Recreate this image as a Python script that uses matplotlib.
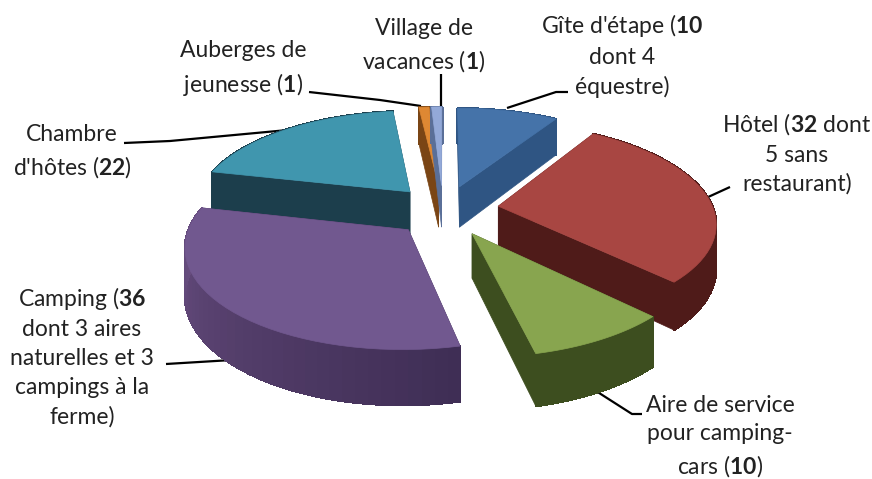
import numpy as np
import matplotlib
matplotlib.use("Agg")
import matplotlib.pyplot as plt
from matplotlib.patches import Polygon

plt.rcParams['font.family'] = ['Lato', 'DejaVu Sans']
plt.rcParams['mathtext.fontset'] = 'custom'
plt.rcParams['mathtext.rm'] = 'Lato'
plt.rcParams['mathtext.bf'] = 'Lato:bold'

# values, clockwise from the top
categories = ["Gîte d'étape", "Hôtel", "Aire de service", "Camping",
              "Chambre d'hôtes", "Auberges de jeunesse", "Village de vacances"]
values = [10, 32, 10, 36, 22, 1, 1]
labels = ["Gîte d'étape ($\\mathbf{10}$\ndont 4\néquestre)",
          "Hôtel ($\\mathbf{32}$ dont\n5 sans\nrestaurant)",
          "Aire de service\npour camping-\ncars ($\\mathbf{10}$)",
          "Camping ($\\mathbf{36}$\ndont 3 aires\nnaturelles et 3\ncampings à la\nferme)",
          "Chambre\nd'hôtes ($\\mathbf{22}$)",
          "Auberges de\njeunesse ($\\mathbf{1}$)",
          "Village de\nvacances ($\\mathbf{1}$)"]

# styles
top_colors = ['#4573a9', '#a84642', '#88a54f', '#71588f', '#4096ae', '#de8833', '#93a9d8']
side_left = ['#2f5583', '#4f1b19', '#3d4e1f', '#6a4f82', '#1c3e4c', '#7a4515', '#5a6f98']
side_right = ['#2f5583', '#4f1b19', '#3d4e1f', '#3f2e55', '#1c3e4c', '#7a4515', '#5a6f98']
explode = [0.27, 0.26, 0.27, 0.21, 0.2, 0.25, 0.25]
nudge_x = [3, 2, 2, 0, -3, 2, 2]
nudge_y = [2, 0, 1, 6, -3, 0, 0]
heights = [42, 43, 43, 46, 45, 43, 43]
draw_order = [4, 5, 6, 0, 1, 3, 2]
label_pos = [(622, 55), (797, 153), (720, 437), (82, 356), (72, 152), (243, 69), (424, 46)]
leaders = [[(507, 108), (556, 92), (568, 92)],
           [(706, 198), (730, 187)],
           [(596, 391), (632, 414), (642, 414)],
           [(232, 360), (166, 364)],
           [(288, 130), (170, 141), (124, 143)],
           [(421, 106), (380, 100), (309, 92)],
           [(441, 106), (441, 74)]]

cx, cy = 441, 209
rx, ry = 215, 97
persp = 0.15


def project(u, v, h=0):
    p = 1 / (1 + persp * v)
    return cx + rx * u * p, cy - ry * v * p + h * p


def slice_points(i, start, end, h=0):
    e = explode[i]
    mid = np.radians((start + end) / 2)
    ou, ov = e * np.sin(mid), e * np.cos(mid)
    angles = np.radians(np.linspace(start, end, 40))
    pts = [project(ou + np.sin(a), ov + np.cos(a), h) for a in angles]
    arc = [(x + nudge_x[i], y + nudge_y[i]) for x, y in pts]
    x0, y0 = project(ou, ov, h)
    return (x0 + nudge_x[i], y0 + nudge_y[i]), arc


fig = plt.figure(figsize=(8.72, 4.79), dpi=100)
ax = fig.add_axes([0, 0, 1, 1])
ax.set_xlim(0, 872)
ax.set_ylim(479, 0)
ax.axis('off')

for line in leaders:
    xs, ys = zip(*line)
    ax.plot(xs, ys, color='black', lw=1.6, solid_capstyle='butt', zorder=1)

edges = np.cumsum([0] + values) / sum(values) * 360

for i in draw_order:
    apex, arc = slice_points(i, edges[i], edges[i + 1])
    apex_low, arc_low = slice_points(i, edges[i], edges[i + 1], heights[i])
    # cut faces
    for k in (0, -1):
        ax.add_patch(Polygon([apex, arc[k], arc_low[k], apex_low], closed=True,
                             fc=side_right[i], ec=side_right[i], lw=0.5, zorder=2))
    # outer wall, shaded along the arc
    c0 = np.array(matplotlib.colors.to_rgb(side_right[i]))
    c1 = np.array(matplotlib.colors.to_rgb(side_left[i]))
    for k in range(len(arc) - 1):
        t = k / (len(arc) - 2)
        col = c0 + (c1 - c0) * t
        ax.add_patch(Polygon([arc[k], arc[k + 1], arc_low[k + 1], arc_low[k]], closed=True,
                             fc=col, ec=col, lw=1, antialiased=False, zorder=2))
    ax.add_patch(Polygon([apex] + arc, closed=True, fc=top_colors[i], ec=top_colors[i],
                         lw=0.5, zorder=2))

for text, (x, y) in zip(labels, label_pos):
    ax.text(x, y, text, ha='center', va='center', fontsize=16.5, color='#222222', linespacing=1.45)

fig.savefig('out.png', dpi=100)
